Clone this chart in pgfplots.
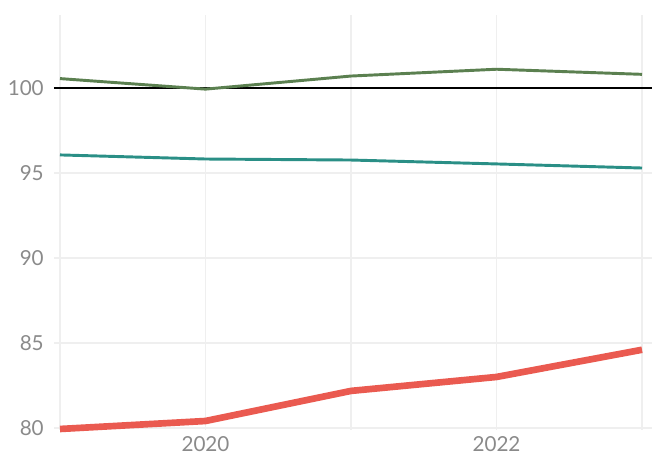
\documentclass[border=0pt]{standalone}
\usepackage{fontspec}
\setmainfont{Lato}
\usepackage{pgfplots}
\pgfplotsset{compat=1.18}
\definecolor{cgreen}{HTML}{5B8050}
\definecolor{cteal}{HTML}{2A8F86}
\definecolor{cred}{HTML}{EA5A50}
\definecolor{cgrid}{HTML}{EFEFEF}
\definecolor{ctick}{HTML}{8A8A8A}
\begin{document}
\begin{tikzpicture}
\useasboundingbox (0,0) rectangle (489pt,341.25pt);
\begin{axis}[
  at={(40.5pt,18.75pt)}, anchor=south west,
  scale only axis, width=448.5pt, height=311.25pt,
  xmin=2018.9588, xmax=2023.0687,
  ymin=79.88, ymax=104.29,
  axis line style={draw=none},
  major tick length=0pt,
  xtick={2019,2020,2021,2022,2023},
  xticklabels={,2020,,2022,},
  ytick={80,85,90,95},
  extra y ticks={100},
  extra y tick style={grid style={black, line width=0.9pt}},
  grid=major,
  grid style={cgrid, line width=0.9pt},
  /pgf/number format/assume math mode=true,
  /pgf/number format/1000 sep={},
  tick label style={font=\fontsize{15.5}{18}\selectfont, text=ctick},
  yticklabel style={anchor=east, inner sep=0pt, xshift=-7.5pt},
  xticklabel style={anchor=north, inner sep=0pt, yshift=-4.8pt},
  clip=false,
]
\addplot[cgreen, line width=2.2pt, line join=round] coordinates {
(2019,100.55) (2020,99.93) (2021,100.7) (2022,101.1) (2023,100.8)};
\addplot[cteal, line width=2.2pt, line join=round] coordinates {
(2019,96.06) (2020,95.82) (2021,95.76) (2022,95.53) (2023,95.29)};
\addplot[cred, line width=5pt, line join=round] coordinates {
(2019,79.94) (2020,80.41) (2021,82.18) (2022,83.0) (2023,84.6)};
\end{axis}
\end{tikzpicture}
\end{document}
